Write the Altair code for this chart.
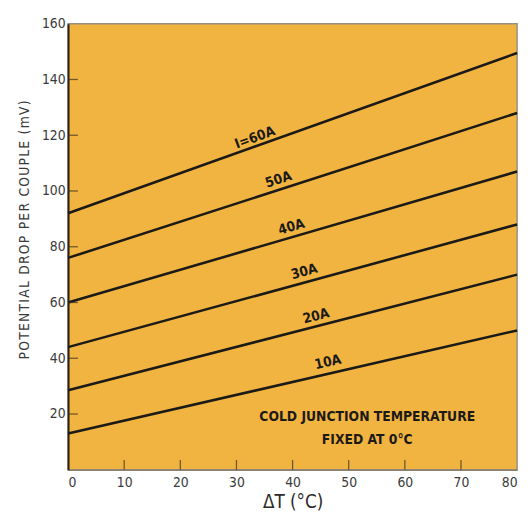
import altair as alt
import pandas as pd

# --- data ---
series = ["10A", "20A", "30A", "40A", "50A", "60A"]
delta_t = [0, 80]
drop_start = [13, 28.5, 44, 60, 76, 92]
drop_end = [50, 70, 88, 107, 128, 149.5]

label_text = ["10A", "20A", "30A", "40A", "50A", "I=60A"]
label_x = [46.3, 44.2, 42.1, 39.8, 37.5, 33.3]
label_y = [38.5, 55, 71, 87, 104, 119]
label_angle = [347, 345.5, 344.7, 343.6, 342, 340]

note_lines = ["COLD JUNCTION TEMPERATURE", "FIXED AT 0°C"]
note_x = [53.3, 53.3]
note_y = [19.0, 10.6]

x_ticks = [0, 10, 20, 30, 40, 50, 60, 70, 80]
y_ticks = [20, 40, 60, 80, 100, 120, 140, 160]

y_title = "POTENTIAL DROP PER COUPLE (mV)"

W, H = 456, 453
FONT = "DejaVu Sans Condensed"
INK = "#1c1a17"

rows = []
for s, a, b in zip(series, drop_start, drop_end):
    rows.append({"series": s, "dT": delta_t[0], "mV": a})
    rows.append({"series": s, "dT": delta_t[1], "mV": b})
lines_df = pd.DataFrame(rows)
labels_df = pd.DataFrame({"t": label_text, "x": label_x, "y": label_y, "a": label_angle})
notes_df = pd.DataFrame({"t": note_lines, "x": note_x, "y": note_y})
xt_df = pd.DataFrame({"v": x_ticks[1:-1]})
yt_df = pd.DataFrame({"v": y_ticks[:-1]})

xs = alt.Scale(domain=[0, 80], nice=False, zero=False)
ys = alt.Scale(domain=[0, 160], nice=False, zero=False)

spaced_title = "\u200a".join(y_title)

x_axis = alt.Axis(values=x_ticks, ticks=False, labelPadding=6, title="ΔT (°C)",
                  titleFontSize=19, titleFont=FONT, titleFontWeight="normal",
                  titleColor="#2a2a2a", titlePadding=3, labelFont=FONT,
                  labelFontSize=14, labelColor="#3a3a3a", domainColor="#8a8070",
                  domainWidth=1.5, grid=False)
y_axis = alt.Axis(values=y_ticks, ticks=False, labelPadding=3,
                  title=spaced_title, titleFontSize=14,
                  titleFont=FONT, titleFontWeight="normal", titleColor="#3a3a3a",
                  titleX=-37, titleY=209, titleAngle=270, titleBaseline="bottom",
                  labelFont=FONT, labelFontSize=14,
                  labelColor="#3a3a3a", domainColor="#2a2218", domainWidth=2,
                  grid=False)

lines = alt.Chart(lines_df).mark_line(strokeWidth=2.6, color=INK).encode(
    x=alt.X("dT:Q", scale=xs, axis=x_axis),
    y=alt.Y("mV:Q", scale=ys, axis=y_axis),
    detail="series:N",
)

labels = alt.Chart(labels_df).mark_text(font=FONT, fontSize=14, fontWeight="bold",
                                        color=INK).encode(
    x=alt.X("x:Q", scale=xs), y=alt.Y("y:Q", scale=ys),
    text="t:N", angle=alt.Angle("a:Q", scale=None),
)

notes = alt.Chart(notes_df).mark_text(font=FONT, fontSize=14, fontWeight="bold",
                                      color=INK).encode(
    x=alt.X("x:Q", scale=xs), y=alt.Y("y:Q", scale=ys), text="t:N",
)

xticks = alt.Chart(xt_df).mark_tick(color="#3a3020", thickness=1.3, size=10).encode(
    x=alt.X("v:Q", scale=xs), y=alt.value(H - 5),
)
yticks = alt.Chart(yt_df).mark_tick(color="#3a3020", thickness=1.3, size=10).encode(
    y=alt.Y("v:Q", scale=ys), x=alt.value(5),
)

chart = alt.layer(lines, labels, notes, xticks, yticks).properties(
    width=W, height=H,
    autosize=alt.AutoSizeParams(type="none"),
    padding={"left": 61, "top": 12, "right": 7, "bottom": 45},
    background="white",
).configure_view(
    fill="#F2B441", stroke="#9a9080", strokeWidth=1.5,
)

chart.save("out.html", embed_options={"renderer": "svg", "actions": False})
